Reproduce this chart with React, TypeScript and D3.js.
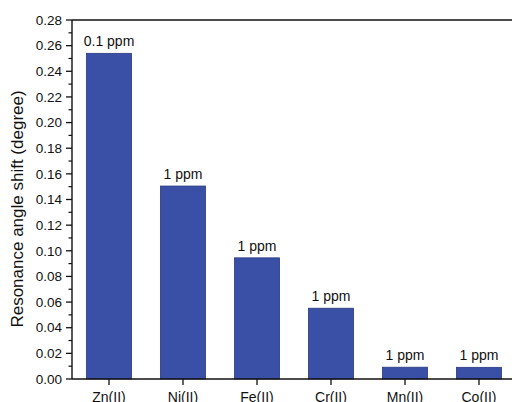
import React from "react";
import * as d3 from "d3";

const categories = ["Zn(II)", "Ni(II)", "Fe(II)", "Cr(II)", "Mn(II)", "Co(II)"];
const values = [0.254, 0.1505, 0.0945, 0.0552, 0.0092, 0.0091];
const barLabels = ["0.1 ppm", "1 ppm", "1 ppm", "1 ppm", "1 ppm", "1 ppm"];
const yMajorTicks = [0, 0.02, 0.04, 0.06, 0.08, 0.1, 0.12, 0.14, 0.16, 0.18, 0.2, 0.22, 0.24, 0.26, 0.28];
const yMinorTicks = [0.01, 0.03, 0.05, 0.07, 0.09, 0.11, 0.13, 0.15, 0.17, 0.19, 0.21, 0.23, 0.25, 0.27];
const yTitle = "Resonance angle shift (degree)";

export default function App() {
  const W = 512, H = 402;
  const left = 72, top = 20, bottom = 379, right = 516;
  const x = d3.scaleBand<string>().domain(categories).range([left, right]).paddingInner(0.39).paddingOuter(0.195);
  const y = d3.scaleLinear().domain([0, 0.28]).range([bottom, top]);
  const font = "Liberation Sans, Arial, sans-serif";
  const color = "#3a50a6";
  return (
    <svg width={W} height={H} style={{ position: "fixed", left: 0, top: 0, background: "#fff" }} fontFamily={font}>
      {categories.map((c, i) => (
        <g key={c}>
          <rect x={x(c)} y={y(values[i])} width={x.bandwidth()} height={bottom - y(values[i])} fill={color} stroke="#2b3a80" strokeWidth={0.8} />
          <text x={x(c)! + x.bandwidth() / 2} y={y(values[i]) - 7} textAnchor="middle" fontSize={14} fill="#111">{barLabels[i]}</text>
          <line x1={x(c)! + x.bandwidth() / 2} x2={x(c)! + x.bandwidth() / 2} y1={bottom} y2={bottom + 6} stroke="#111" strokeWidth={1.3} />
          <text x={x(c)! + x.bandwidth() / 2} y={bottom + 23} textAnchor="middle" fontSize={14} fill="#111">{c}</text>
        </g>
      ))}
      <line x1={left} x2={W} y1={top} y2={top} stroke="#111" strokeWidth={1.4} />
      <line x1={left} x2={W} y1={bottom} y2={bottom} stroke="#111" strokeWidth={1.4} />
      <line x1={left} x2={left} y1={top} y2={bottom} stroke="#111" strokeWidth={1.4} />
      {yMajorTicks.map((t) => (
        <g key={t}>
          <line x1={left - 6} x2={left} y1={y(t)} y2={y(t)} stroke="#111" strokeWidth={1.3} />
          <text x={left - 10} y={y(t)} dy="0.35em" textAnchor="end" fontSize={13.5} fill="#111">{t.toFixed(2)}</text>
        </g>
      ))}
      {yMinorTicks.map((t) => (
        <line key={t} x1={left - 3.5} x2={left} y1={y(t)} y2={y(t)} stroke="#111" strokeWidth={1.2} />
      ))}
      <text transform={`translate(23,209) rotate(-90)`} textAnchor="middle" fontSize={17} fill="#111">{yTitle}</text>
    </svg>
  );
}
